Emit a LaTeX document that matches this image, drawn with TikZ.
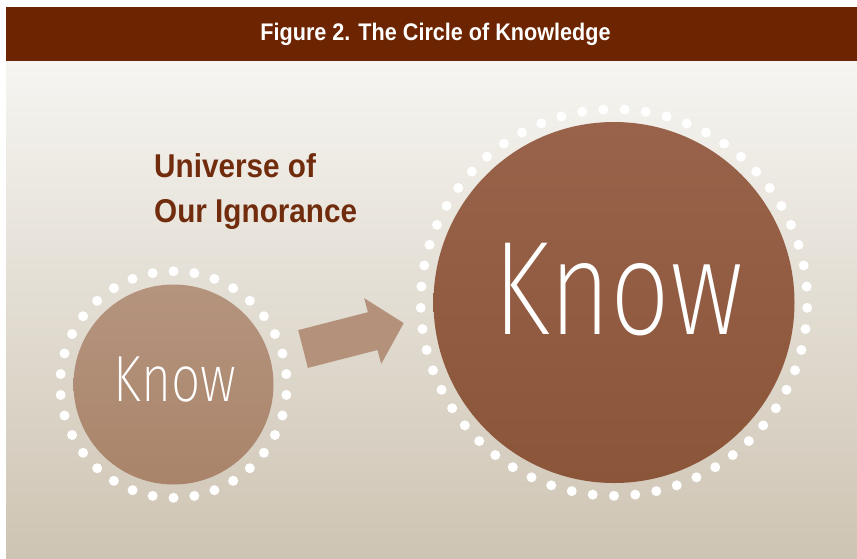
\documentclass[tikz,border=0pt]{standalone}
\usepackage{fontspec}
\setmainfont{Liberation Sans}
\newfontfamily\headfont{Liberation Sans}[FakeStretch=0.9]
\newfontfamily\knowfont{Fira Sans ExtraLight}[FakeStretch=0.79]
\definecolor{banner}{RGB}{108,37,0}
\definecolor{ignor}{RGB}{112,44,12}
\definecolor{bgtop}{RGB}{246,245,241}
\definecolor{bgbot}{RGB}{206,196,179}
\definecolor{smalltop}{RGB}{181,148,126}
\definecolor{smallbot}{RGB}{169,132,106}
\definecolor{bigtop}{RGB}{153,99,75}
\definecolor{bigbot}{RGB}{139,85,57}
\definecolor{arrowfill}{RGB}{180,145,122}

\begin{document}
\begin{tikzpicture}[x=1pt,y=-1pt]
\tikzstyle{every node}+=[inner sep=0pt]
\tikzstyle{headtext}=[text=white, font=\headfont\bfseries\fontsize{24}{28}\selectfont]
\tikzstyle{ignorance}=[text=ignor, align=left, font=\headfont\bfseries\fontsize{33}{45}\selectfont]
\tikzstyle{smallcirc}=[circle, minimum size=200pt, top color=smalltop, bottom color=smallbot]
\tikzstyle{bigcirc}=[circle, minimum size=361pt, top color=bigtop, bottom color=bigbot]
\tikzstyle{knowsmall}=[text=white, font=\knowfont\fontsize{65.3}{70}\selectfont]
\tikzstyle{knowbig}=[text=white, font=\knowfont\fontsize{133.5}{140}\selectfont]
\tikzstyle{dot}=[fill=white]
\useasboundingbox (0,0) rectangle (857,558);
\fill[white] (0,0) rectangle (857,558);
\shade[top color=bgtop, bottom color=bgbot] (6,61) rectangle (857,558);
\fill[banner] (6,7) rectangle (857,61);
\node[headtext, anchor=base] (title) at (435.5,40.5) {Figure 2. The Circle of Knowledge};
\node[ignorance, anchor=base west] (universe) at (154,222) {Universe of\\Our Ignorance};
\node[smallcirc] (small) at (173.5,384.5) {};
\node[bigcirc] (big) at (614,302.5) {};
\foreach \a in {0,...,33}
  \fill[dot] (small.center) ++(90+\a*10.5882:113.3) circle (5);
\foreach \a in {0,...,56}
  \fill[dot] (big.center) ++(90+\a*6.31579:193.3) circle (5);
\node[knowsmall] (smallword) at (175,380) {Know};
\node[knowbig] (bigword) at (618.5,290) {Know};
\fill[arrowfill] (298.2,330.1) -- (367.9,312.2) -- (364.2,298.2) -- (403.7,323.1)
  -- (381.2,364.0) -- (377.5,350.0) -- (307.9,367.9) -- cycle;
\end{tikzpicture}
\end{document}
